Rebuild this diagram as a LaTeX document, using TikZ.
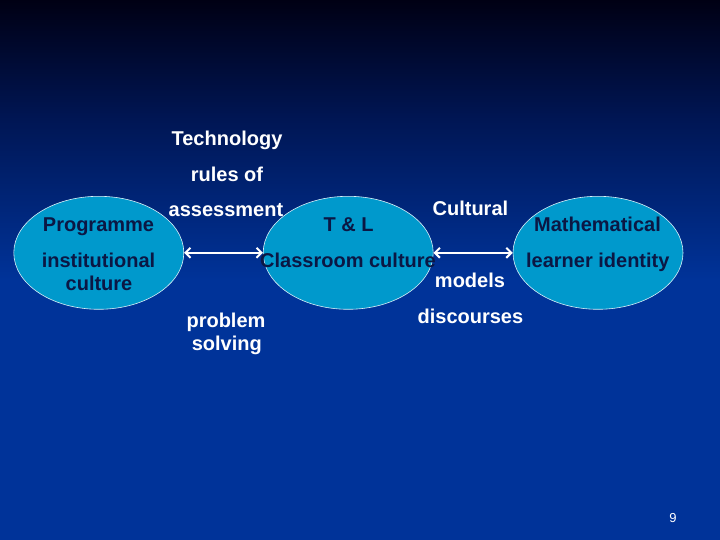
\documentclass[tikz,border=0pt]{standalone}
\usepackage{fontspec}
\setmainfont{Liberation Sans}
\usetikzlibrary{shapes.geometric,arrows.meta}
\definecolor{bgtop}{HTML}{000014}
\definecolor{bgmid}{HTML}{001552}
\definecolor{bgbot}{HTML}{003399}
\definecolor{ellfill}{HTML}{0099CC}
\definecolor{darktxt}{HTML}{0B1744}
\tikzset{
  bubble/.style={ellipse, draw=white!85!ellfill, line width=0.6pt, fill=ellfill,
    minimum width=170pt, minimum height=113pt, inner sep=0pt},
  intext/.style={anchor=base, text=darktxt, inner sep=0pt, font=\bfseries\fontsize{20}{24}\selectfont},
  outtext/.style={anchor=base, text=white, inner sep=0pt, font=\bfseries\fontsize{20}{24}\selectfont},
  link/.style={draw=white, line width=2pt, {Straight Barb[length=5pt,width=10pt,line width=2pt]}-{Straight Barb[length=5pt,width=10pt,line width=2pt]}},
}
\begin{document}
\begin{tikzpicture}[x=1pt,y=-1pt]
\useasboundingbox (0,0) rectangle (720,540);
% background
\fill[bgbot] (0,0) rectangle (720,540);
\shade[top color=bgtop, bottom color=bgmid] (0,0) rectangle (720,115);
\shade[top color=bgmid, bottom color=bgbot] (0,114.5) rectangle (720,280);
% bubbles
\node[bubble] (prog) at (98.8,252.8) {};
\node[bubble] (tl) at (348.2,252.8) {};
\node[bubble] (math) at (598,252.8) {};
% connectors
\draw[link] (prog.east) -- (tl.west);
\draw[link] (tl.east) -- (math.west);
% texts inside bubbles
\node[intext] (t1) at (98.5,231) {Programme};
\node[intext] (t2) at (98.5,267) {institutional};
\node[intext] (t3) at (99,290) {culture};
\node[intext] (t4) at (348.5,231) {T \& L};
\node[intext] (t5) at (348,267) {Classroom culture};
\node[intext] (t6) at (597.5,231) {Mathematical};
\node[intext] (t7) at (597.8,267) {learner identity};
% free texts
\node[outtext] (o1) at (227,146) {Technology};
\node[outtext] (o2) at (227,182) {rules of};
\node[outtext] (o3) at (226,216) {assessment};
\node[outtext] (o4) at (226,327) {problem};
\node[outtext] (o5) at (226.8,350) {solving};
\node[outtext] (o6) at (470.4,215) {Cultural};
\node[outtext] (o7) at (470,287) {models};
\node[outtext] (o8) at (470.4,323) {discourses};
\node[anchor=base, text=white, inner sep=0pt, font=\fontsize{13}{15}\selectfont] (pg) at (673,522) {9};
\end{tikzpicture}
\end{document}
